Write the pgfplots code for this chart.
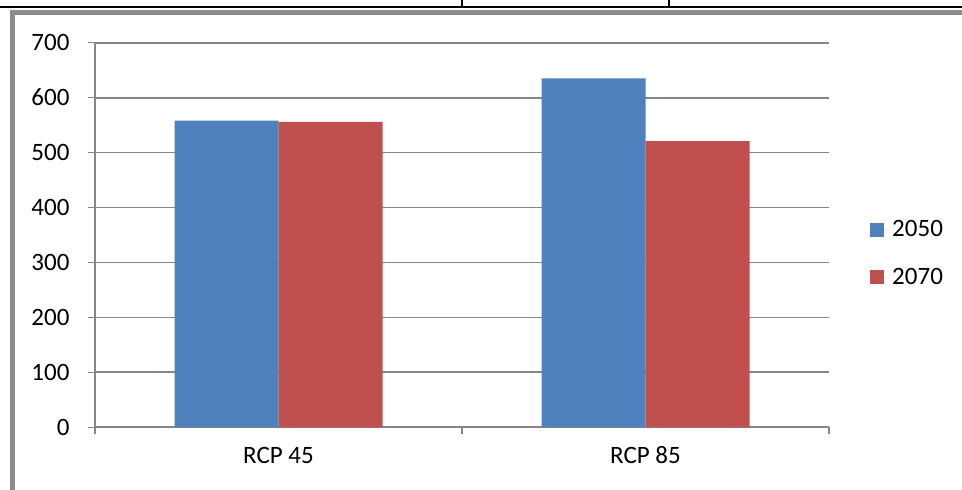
\documentclass[border=0pt]{standalone}
\usepackage{fontspec}
\setmainfont{Carlito}
\usepackage{pgfplots}
\pgfplotsset{compat=1.18}
\definecolor{cblue}{HTML}{4F81BD}
\definecolor{cred}{HTML}{C0504D}
\definecolor{gridc}{HTML}{868686}
\definecolor{framec}{HTML}{8C8C8C}
\begin{document}
\begin{tikzpicture}[x=1bp,y=1bp]
\path[use as bounding box] (0,0) rectangle (962,490);
% document table lines and chart frame
\draw[black, line width=2.5bp] (0,483) -- (962,483);
\draw[black, line width=2bp] (462,483) -- (462,491);
\draw[black, line width=2bp] (669,483) -- (669,491);
\draw[framec, line width=5bp] (12,-2) -- (12,477.5) -- (964,477.5);
\begin{axis}[
  at={(95bp,62.7bp)}, anchor=south west,
  scale only axis, width=734bp, height=384.6bp,
  ybar=0pt, bar width=104bp,
  xmin=-0.5, xmax=1.5, ymin=0, ymax=700,
  ytick={0,100,...,700},
  xtick={0,1}, xticklabels={RCP 45,RCP 85},
  minor xtick={-0.5,0.5,1.5},
  major x tick style={draw=none},
  axis x line*=bottom, axis y line*=left,
  axis line style={gridc, line width=1.8bp, -},
  every tick/.style={gridc, line width=1.5bp},
  tick align=outside,
  major tick length=7bp, minor tick length=7bp,
  ymajorgrids, grid style={gridc, line width=1.8bp},
  /pgf/number format/assume math mode=true,
  tick label style={font=\fontsize{25bp}{30bp}\selectfont, text=black},
  yticklabel style={xshift=-15bp},
  xticklabel style={yshift=-9bp},
  legend style={at={(1.0559,0.452)}, anchor=west, draw=none, fill=none,
    font=\fontsize{25bp}{30bp}\selectfont, row sep=26bp, inner sep=0pt,
    nodes={inner sep=2bp}},
  legend cell align=left,
  legend image code/.code={\fill[#1] (0bp,-7bp) rectangle (14bp,7bp); \path (0bp,0bp) -- (20bp,0bp);},
  clip=false,
]
\addplot[fill=cblue, draw=none] coordinates {(0,558) (1,635)};
\addplot[fill=cred, draw=none] coordinates {(0,556) (1,521)};
\legend{2050,2070}
\end{axis}
\end{tikzpicture}
\end{document}
